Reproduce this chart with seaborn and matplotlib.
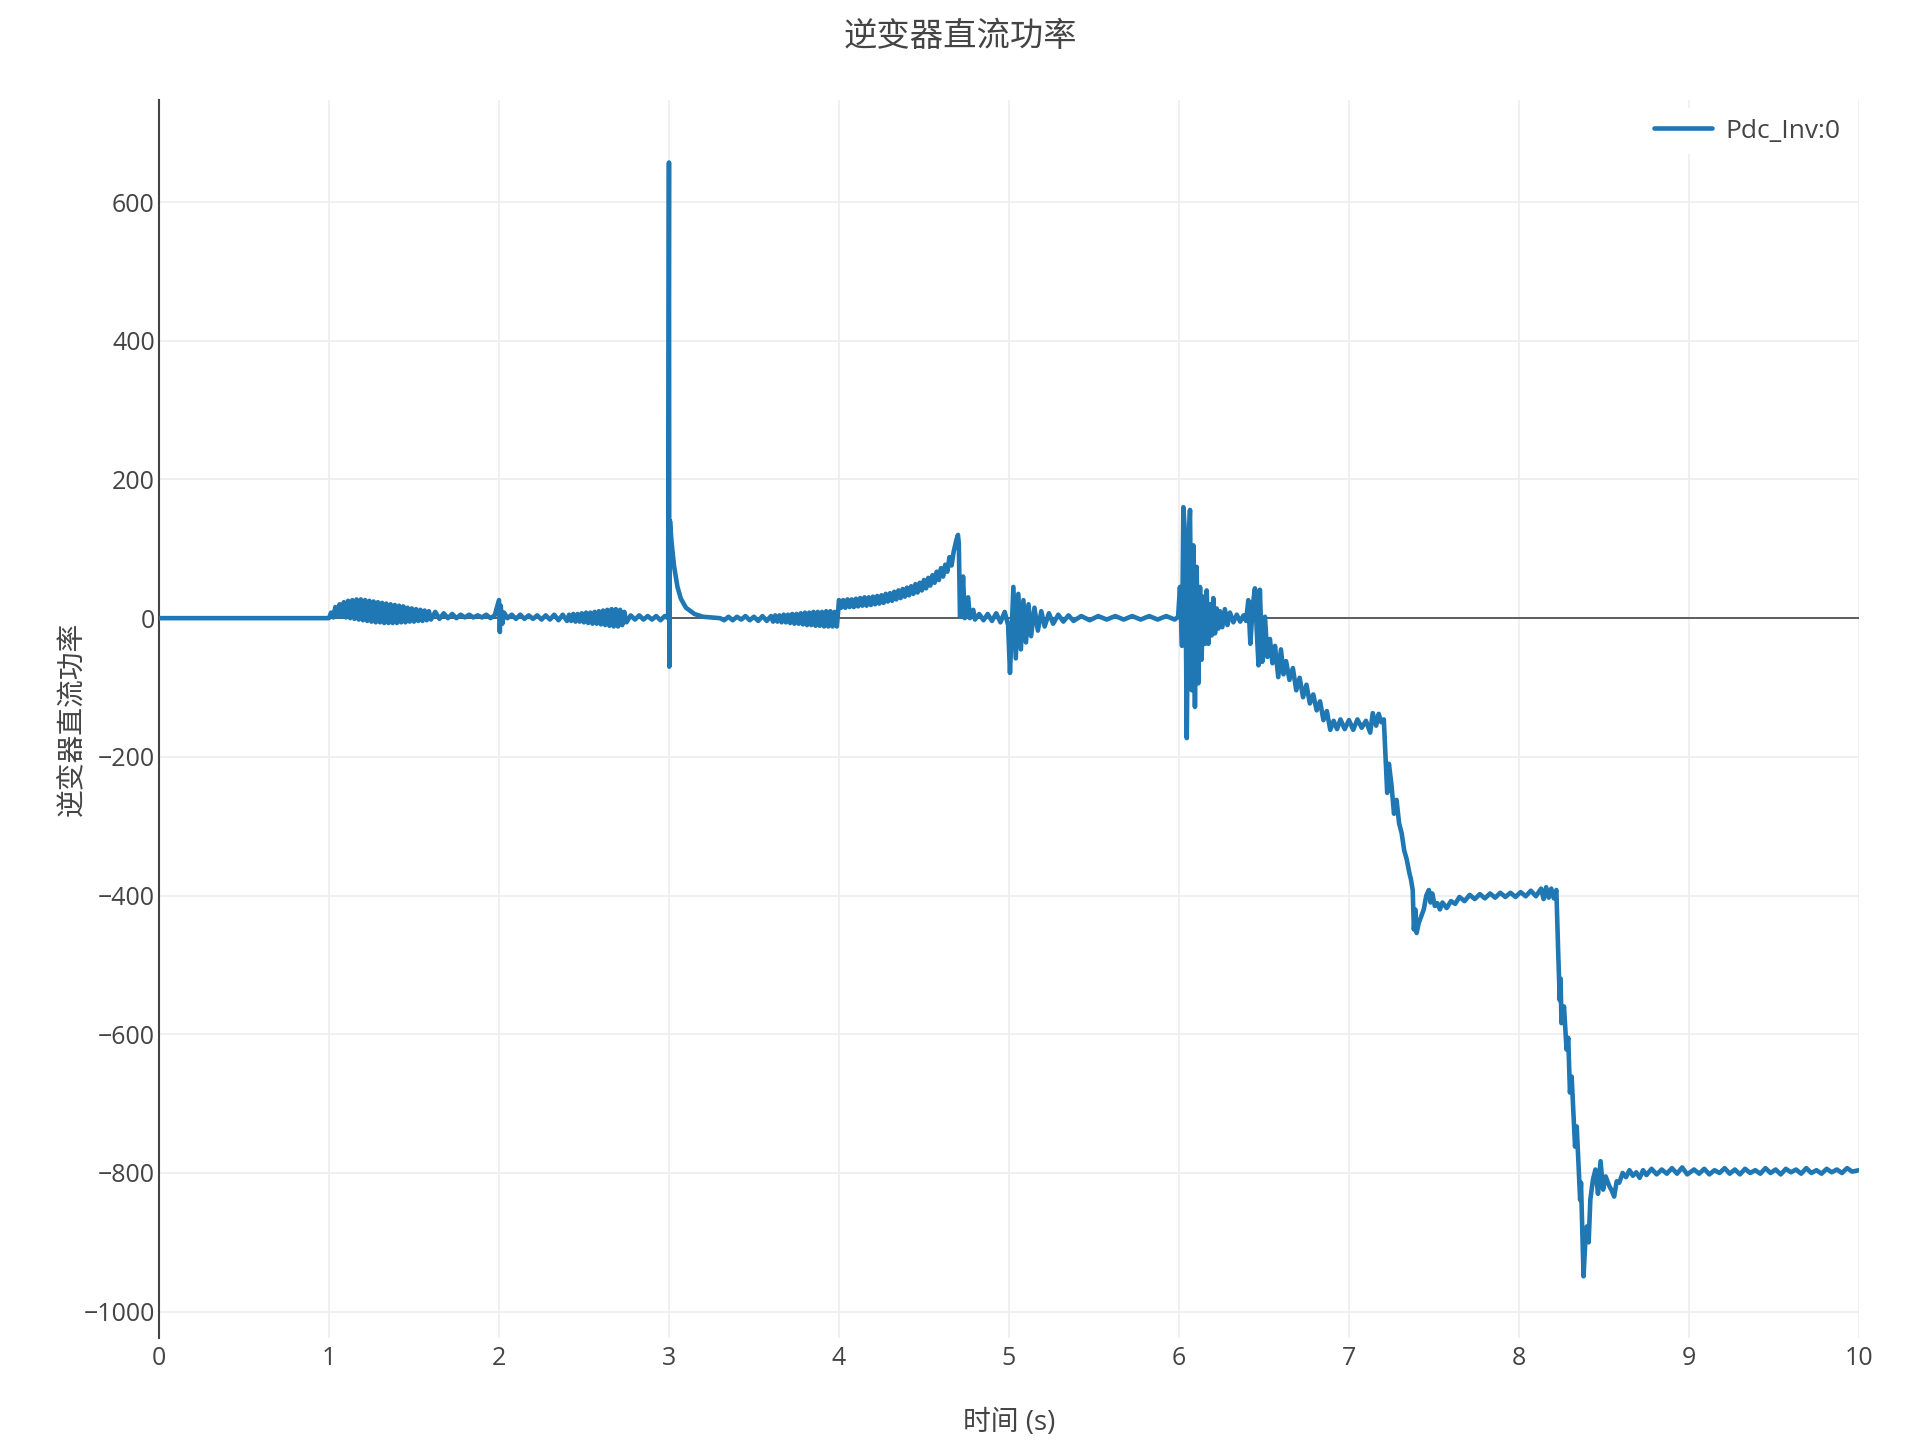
import numpy as np
import pandas as pd
import matplotlib.pyplot as plt
import seaborn as sns

# Pdc_Inv:0 samples, segment by segment (time in s, power)
t_idle = [0.0, 0.5, 1.0]
p_idle = [0, 0, 0]

t_osc1a = [1.0125, 1.025, 1.0375, 1.05, 1.0625, 1.075, 1.0875, 1.1, 1.1125, 1.125,
           1.1375, 1.15, 1.1625, 1.175, 1.1875, 1.2, 1.2125, 1.225, 1.2375, 1.25,
           1.2625, 1.275, 1.2875, 1.3, 1.3125, 1.325, 1.3375, 1.35, 1.3625, 1.375,
           1.3875, 1.4, 1.4125, 1.425, 1.4375, 1.45, 1.4625, 1.475, 1.4875, 1.5,
           1.5125, 1.525, 1.5375, 1.55, 1.5625, 1.575, 1.5875, 1.6]
p_osc1a = [8, 1, 16, 2, 20, 2, 23, 1, 25, 0,
           26, -1, 27, -2, 27, -3, 26, -4, 25, -5,
           24, -6, 23, -6, 22, -7, 21, -7, 20, -7,
           19, -7, 18, -6, 17, -6, 15, -5, 14, -5,
           13, -4, 12, -4, 11, -3, 10, -2]

t_osc1b = [1.625, 1.65, 1.675, 1.7, 1.725, 1.75, 1.775, 1.8, 1.825, 1.85,
           1.875, 1.9, 1.925, 1.95, 1.975]
p_osc1b = [9, -1, 7, 0, 6, 0, 5, 1, 5, 1,
           4, 1, 5, 0, 4]

t_osc2a = [2.0, 2.005, 2.01, 2.02, 2.03, 2.05,
           2.075, 2.1, 2.125, 2.15, 2.175, 2.2, 2.225, 2.25, 2.275, 2.3,
           2.325, 2.35, 2.375, 2.4]
p_osc2a = [26, -20, 18, -8, 8, 0,
           5, -1, 5, -1, 4, -1, 4, -2, 4, -2,
           5, -3, 5, -4]

t_osc2b = [2.4125, 2.425, 2.4375, 2.45, 2.4625, 2.475, 2.4875, 2.5, 2.5125, 2.525,
           2.5375, 2.55, 2.5625, 2.575, 2.5875, 2.6, 2.6125, 2.625, 2.6375, 2.65,
           2.6625, 2.675, 2.6875, 2.7, 2.7125, 2.725, 2.7375, 2.75,
           2.775, 2.8, 2.825, 2.85, 2.875, 2.9, 2.925, 2.95, 2.975]
p_osc2b = [5, -4, 6, -5, 6, -5, 7, -6, 8, -7,
           8, -8, 9, -8, 10, -9, 11, -10, 12, -11,
           13, -12, 13, -12, 12, -10, 9, -6,
           4, -2, 4, -2, 3, -2, 3, -3, 3]

t_spike3 = [2.995, 3.0, 3.002, 3.006, 3.015, 3.03, 3.05, 3.07, 3.1, 3.15, 3.2, 3.25, 3.3]
p_spike3 = [0, 657, -70, 140, 110, 75, 45, 28, 15, 6, 2, 1, 0]

t_osc3 = [3.325, 3.35, 3.375, 3.4, 3.425, 3.45, 3.475, 3.5, 3.525, 3.55,
          3.575, 3.6, 3.6125, 3.625, 3.6375, 3.65, 3.6625, 3.675, 3.6875, 3.7,
          3.7125, 3.725, 3.7375, 3.75, 3.7625, 3.775, 3.7875, 3.8, 3.8125, 3.825,
          3.8375, 3.85, 3.8625, 3.875, 3.8875, 3.9, 3.9125, 3.925, 3.9375, 3.95,
          3.9625, 3.975, 3.9875, 3.995]
p_osc3 = [-3, 2, -3, 2, -2, 3, -3, 2, -4, 3,
          -4, 3, -5, 4, -5, 4, -6, 5, -6, 5,
          -7, 6, -8, 6, -8, 7, -9, 8, -10, 8,
          -10, 9, -11, 9, -11, 9, -12, 10, -12, 10,
          -12, 9, -12, 9]

t_ramp4 = [4.0, 4.0125, 4.025, 4.0375, 4.05, 4.0625, 4.075, 4.0875, 4.1, 4.1125,
           4.125, 4.1375, 4.15, 4.1625, 4.175, 4.1875, 4.2, 4.2125, 4.225, 4.2375,
           4.25, 4.2625, 4.275, 4.2875, 4.3, 4.3125, 4.325, 4.3375, 4.35, 4.3625,
           4.375, 4.3875, 4.4, 4.4125, 4.425, 4.4375, 4.45, 4.4625, 4.475, 4.4875,
           4.5, 4.5125, 4.525, 4.5375, 4.55, 4.5625, 4.575, 4.5875, 4.6, 4.6125,
           4.625, 4.6375, 4.65, 4.6625, 4.675]
p_ramp4 = [26, 15, 26, 15, 27, 16, 27, 16, 28, 17,
           29, 18, 30, 18, 30, 19, 31, 20, 32, 21,
           33, 22, 35, 24, 36, 25, 38, 27, 40, 29,
           42, 31, 44, 33, 46, 35, 49, 37, 51, 40,
           55, 43, 58, 47, 62, 51, 67, 55, 72, 60,
           77, 67, 88, 76, 96]

t_peak4 = [4.69, 4.7, 4.705, 4.712, 4.72, 4.73, 4.74, 4.76, 4.77, 4.79,
           4.8, 4.825, 4.85, 4.875, 4.9, 4.925, 4.95, 4.975, 4.995]
p_peak4 = [112, 120, 108, 2, 8, 60, 0, 30, 0, 12,
           -2, 6, -3, 6, -4, 7, -6, 9, -10]

t_osc5 = [5.006, 5.026, 5.04, 5.055, 5.07, 5.085, 5.1, 5.115, 5.13, 5.15,
          5.17, 5.19, 5.21, 5.235, 5.26, 5.29, 5.32, 5.35, 5.38, 5.425,
          5.475, 5.525, 5.575, 5.625, 5.675, 5.725, 5.775, 5.825, 5.875, 5.925,
          5.975, 5.995]
p_osc5 = [-79, 45, -58, 35, -45, 26, -35, 20, -26, 15,
          -18, 10, -12, 7, -8, 5, -5, 4, -4, 3,
          -3, 3, -2, 3, -2, 3, -2, 3, -2, 3,
          -2, 2]

t_osc6 = [6.006, 6.018, 6.026, 6.036, 6.046, 6.056, 6.065, 6.075, 6.085, 6.094,
          6.104, 6.114, 6.124, 6.133, 6.143, 6.153, 6.163, 6.173, 6.183, 6.192,
          6.202, 6.212, 6.222, 6.232, 6.241, 6.255, 6.27, 6.285, 6.3, 6.32,
          6.34, 6.36, 6.38, 6.395]
p_osc6 = [45, -40, 160, 120, -173, 100, 156, -104, 105, -128,
          74, -94, 45, -60, 31, -37, 40, -37, 20, -25,
          29, -22, 14, -15, 10, -13, 13, -10, 8, -6,
          5, -5, 4, -4]

t_burst6 = [6.408, 6.42, 6.435, 6.447, 6.458, 6.468, 6.476, 6.49, 6.506, 6.52,
            6.535, 6.55, 6.565, 6.584, 6.6, 6.615, 6.63, 6.65, 6.67, 6.69,
            6.71, 6.73, 6.75, 6.77, 6.79, 6.81, 6.83, 6.85, 6.87, 6.89,
            6.91, 6.93]
p_burst6 = [26, -37, 20, 43, -20, -68, 41, -63, 2, -56,
            -30, -65, -40, -85, -45, -81, -62, -89, -72, -104,
            -86, -114, -96, -123, -110, -133, -120, -147, -134, -161,
            -148, -160]

t_drop1 = [6.95, 6.975, 7.0, 7.025, 7.05, 7.075, 7.1, 7.125, 7.14, 7.16,
           7.175, 7.19, 7.205, 7.215, 7.225, 7.235, 7.25, 7.265, 7.28, 7.295,
           7.31, 7.325, 7.34, 7.355, 7.365, 7.375, 7.382, 7.39, 7.398, 7.41]
p_drop1 = [-146, -160, -147, -161, -146, -158, -148, -165, -137, -155,
           -138, -150, -146, -200, -252, -210, -240, -282, -262, -296,
           -310, -335, -348, -367, -377, -392, -449, -420, -454, -440]

t_level400 = [7.425, 7.44, 7.455, 7.47, 7.48, 7.49, 7.505, 7.52, 7.535, 7.55,
              7.575, 7.6, 7.625, 7.65, 7.68, 7.71, 7.74, 7.77, 7.8, 7.83,
              7.86, 7.89, 7.92, 7.95, 7.98, 8.01, 8.04, 8.07, 8.1, 8.13,
              8.145, 8.16, 8.175, 8.19, 8.205, 8.22]
p_level400 = [-430, -420, -400, -392, -410, -397, -415, -411, -420, -410,
              -418, -408, -412, -402, -408, -399, -405, -398, -404, -397,
              -403, -396, -402, -396, -402, -395, -401, -393, -401, -390,
              -405, -388, -403, -390, -404, -392]

t_drop2 = [8.231, 8.24, 8.245, 8.25, 8.265, 8.28, 8.29, 8.3, 8.31, 8.33,
           8.34, 8.36, 8.365, 8.38, 8.39, 8.4, 8.41, 8.42, 8.435, 8.45,
           8.465, 8.48, 8.495, 8.51, 8.53, 8.545, 8.56, 8.575, 8.59, 8.61,
           8.63, 8.65, 8.67, 8.69, 8.71, 8.73, 8.75, 8.78, 8.81, 8.84,
           8.87, 8.9, 8.93, 8.96, 8.99]
p_drop2 = [-483, -551, -520, -584, -560, -622, -605, -684, -661, -762,
           -733, -839, -814, -949, -900, -877, -900, -838, -810, -795,
           -830, -783, -824, -805, -818, -825, -834, -812, -814, -800,
           -806, -796, -804, -799, -807, -796, -803, -794, -802, -795,
           -801, -793, -801, -792, -802]

t_tail = [9.03, 9.06, 9.09, 9.12, 9.15, 9.18, 9.21, 9.24, 9.27, 9.3,
          9.33, 9.36, 9.39, 9.42, 9.45, 9.48, 9.51, 9.54, 9.57, 9.6,
          9.63, 9.66, 9.69, 9.72, 9.75, 9.78, 9.81, 9.84, 9.87, 9.9,
          9.93, 9.96, 10.0]
p_tail = [-795, -801, -794, -802, -796, -800, -793, -801, -795, -802,
          -794, -800, -796, -801, -793, -800, -795, -802, -794, -799,
          -795, -801, -793, -800, -796, -801, -794, -799, -795, -800,
          -793, -798, -796]

x_ticks = [0, 1, 2, 3, 4, 5, 6, 7, 8, 9, 10]
y_ticks = [-1000, -800, -600, -400, -200, 0, 200, 400, 600]

t_all = np.concatenate([t_idle, t_osc1a, t_osc1b, t_osc2a, t_osc2b, t_spike3, t_osc3,
                        t_ramp4, t_peak4, t_osc5, t_osc6, t_burst6, t_drop1,
                        t_level400, t_drop2, t_tail])
p_all = np.concatenate([p_idle, p_osc1a, p_osc1b, p_osc2a, p_osc2b, p_spike3, p_osc3,
                        p_ramp4, p_peak4, p_osc5, p_osc6, p_burst6, p_drop1,
                        p_level400, p_drop2, p_tail])
df = pd.DataFrame({'time': t_all, 'Pdc': p_all})

sns.set_style('whitegrid')
plt.rcParams['font.family'] = ['Open Sans', 'Noto Sans CJK SC', 'DejaVu Sans']
plt.rcParams['axes.unicode_minus'] = True

fig = plt.figure(figsize=(19.2, 14.4), dpi=100)
ax = fig.add_axes([0.0828, 0.0708, 0.8854, 0.8597])

sns.lineplot(data=df, x='time', y='Pdc', ax=ax, color='#1f77b4', lw=3.3,
             sort=False, estimator=None, label='Pdc_Inv:0', zorder=3)
ax.axhline(0, color='#444444', lw=1.2, zorder=2)

ax.set_xlim(0, 10)
ax.set_ylim(-1038, 747)
ax.set_xticks(x_ticks)
ax.set_yticks(y_ticks)
ax.grid(True, color='#eeeeee', lw=1.2)
ax.tick_params(axis='both', length=0, labelsize=18, labelcolor='#444444')
ax.tick_params(axis='x', pad=6)
ax.tick_params(axis='y', pad=3)

for side in ['top', 'right', 'bottom']:
    ax.spines[side].set_visible(False)
ax.spines['left'].set_color('#444444')
ax.spines['left'].set_linewidth(1.5)

fig.text(0.5, 0.974, '逆变器直流功率', ha='center', va='center', fontsize=24, color='#444444')
ax.set_xlabel('时间 (s)', fontsize=20, color='#444444', va='center')
ax.xaxis.set_label_coords(0.5, -0.0687)
ax.set_ylabel('逆变器直流功率', fontsize=20, color='#444444', va='center')
ax.yaxis.set_label_coords(-0.0503, 0.5)

leg = ax.legend(loc='upper right', bbox_to_anchor=(1.0, 1.0), fontsize=19, frameon=True,
                fancybox=False, handlelength=2.2, handletextpad=0.5, borderaxespad=0.3)
leg.get_frame().set_facecolor('white')
leg.get_frame().set_edgecolor('none')
leg.get_frame().set_alpha(1)
for txt in leg.get_texts():
    txt.set_color('#444444')

plt.savefig('out.png', dpi=100)
